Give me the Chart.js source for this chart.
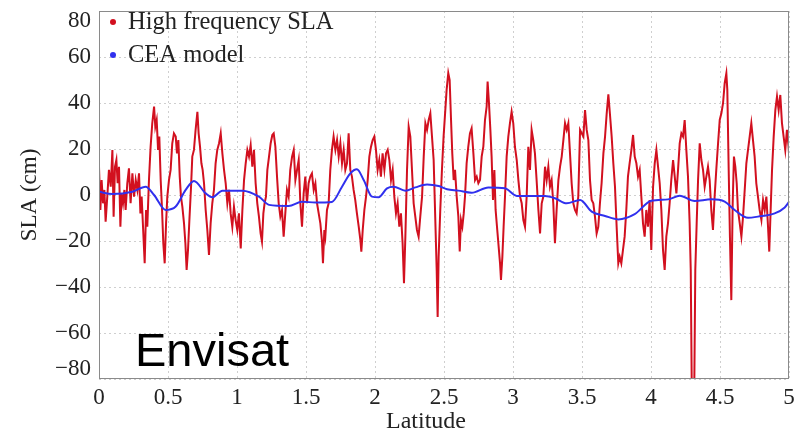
<!DOCTYPE html>
<html>
<head>
<meta charset="utf-8">
<script src="https://cdn.jsdelivr.net/npm/chart.js@4.4.1/dist/chart.umd.min.js"></script>
<style>
  html, body { margin: 0; padding: 0; background: #fff; }
  canvas { display: block; }
</style>
</head>
<body>
<canvas id="slaChart" width="795" height="435"></canvas>
<script>
// high frequency SLA (latitude, cm)
const hfLatitude = [
  0.000, 0.010, 0.019, 0.029, 0.039, 0.048, 0.060, 0.072, 0.085, 0.097, 0.106, 0.116, 0.126, 0.135, 0.145, 0.155,
  0.164, 0.174, 0.184, 0.193, 0.205, 0.217, 0.229, 0.242, 0.254, 0.266, 0.278, 0.290, 0.300, 0.309, 0.319, 0.331,
  0.341, 0.350, 0.362, 0.374, 0.386, 0.399, 0.408, 0.418, 0.428, 0.437, 0.447, 0.457, 0.466, 0.476, 0.486, 0.495,
  0.507, 0.519, 0.531, 0.543, 0.556, 0.565, 0.575, 0.585, 0.594, 0.604, 0.616, 0.626, 0.635, 0.645, 0.655, 0.667,
  0.676, 0.688, 0.700, 0.713, 0.722, 0.732, 0.742, 0.751, 0.761, 0.773, 0.785, 0.797, 0.809, 0.821, 0.833, 0.845,
  0.857, 0.870, 0.882, 0.894, 0.906, 0.918, 0.930, 0.942, 0.954, 0.966, 0.978, 0.990, 1.002, 1.014, 1.027, 1.039,
  1.051, 1.063, 1.075, 1.087, 1.099, 1.111, 1.123, 1.135, 1.147, 1.159, 1.171, 1.181, 1.191, 1.200, 1.210, 1.220,
  1.232, 1.244, 1.256,
  1.266, 1.278, 1.290, 1.302, 1.314, 1.326, 1.338, 1.350, 1.362, 1.374, 1.386, 1.399, 1.411, 1.423, 1.435, 1.447,
  1.459, 1.471, 1.483, 1.495, 1.507, 1.519, 1.531, 1.543, 1.556, 1.568, 1.580, 1.592, 1.604, 1.616, 1.623, 1.633,
  1.640, 1.652, 1.664, 1.676, 1.688, 1.700, 1.713, 1.725, 1.737, 1.749, 1.761, 1.773, 1.785, 1.797, 1.809, 1.821,
  1.833, 1.845, 1.857, 1.869, 1.882, 1.894, 1.901, 1.911, 1.923, 1.935, 1.947, 1.959, 1.971, 1.983, 1.995, 2.007,
  2.019, 2.031, 2.043, 2.055, 2.068, 2.080, 2.092, 2.104, 2.116, 2.128, 2.140, 2.152, 2.164, 2.176, 2.188, 2.200,
  2.210, 2.220, 2.232, 2.244, 2.256, 2.268, 2.280, 2.292, 2.304, 2.316, 2.328, 2.341, 2.353, 2.365, 2.377, 2.389,
  2.401, 2.413, 2.425, 2.437, 2.447, 2.454, 2.461, 2.473, 2.485, 2.497,
  2.519, 2.531, 2.541, 2.551, 2.560, 2.570, 2.580, 2.592, 2.604, 2.614, 2.623, 2.633, 2.643, 2.652, 2.664, 2.676,
  2.688, 2.700, 2.713, 2.725, 2.737, 2.749, 2.761, 2.773, 2.785, 2.797, 2.809, 2.816, 2.826, 2.836, 2.845, 2.855,
  2.865, 2.874, 2.884, 2.894, 2.906, 2.913, 2.923, 2.932, 2.942, 2.954, 2.966, 2.978, 2.990, 3.002, 3.014, 3.027,
  3.039, 3.051, 3.063, 3.075, 3.087, 3.099, 3.111, 3.123, 3.135, 3.147, 3.159, 3.171, 3.184, 3.196, 3.208, 3.220,
  3.232, 3.244, 3.256, 3.268, 3.280, 3.292, 3.304, 3.316, 3.329, 3.341, 3.353, 3.365, 3.377, 3.389, 3.401, 3.413,
  3.425, 3.437, 3.449, 3.461, 3.473, 3.486, 3.498, 3.510, 3.522, 3.534, 3.546, 3.558, 3.570, 3.582, 3.594, 3.606,
  3.618, 3.630, 3.642, 3.655, 3.667, 3.679, 3.691, 3.703, 3.715, 3.727, 3.739, 3.751, 3.763,
  3.773, 3.785, 3.797, 3.809, 3.821, 3.833, 3.845, 3.858, 3.870, 3.882, 3.894, 3.906, 3.918, 3.930, 3.942, 3.954,
  3.966, 3.978, 3.990, 4.002, 4.015, 4.027, 4.039, 4.051, 4.063, 4.075, 4.087, 4.099, 4.111, 4.123, 4.135, 4.147,
  4.160, 4.172, 4.184, 4.196, 4.208, 4.220, 4.232, 4.244, 4.256, 4.268, 4.280, 4.288, 4.297, 4.312, 4.321, 4.331,
  4.341, 4.353, 4.365, 4.377, 4.389, 4.401, 4.413, 4.425, 4.437, 4.449, 4.461, 4.473, 4.486, 4.498, 4.510, 4.522,
  4.534, 4.546, 4.553, 4.563, 4.572, 4.582, 4.592, 4.601, 4.611, 4.621, 4.630, 4.643, 4.655, 4.667, 4.679, 4.691,
  4.703, 4.715, 4.727, 4.739, 4.751, 4.763, 4.775, 4.787, 4.800, 4.812, 4.824, 4.836, 4.848, 4.857, 4.867, 4.877,
  4.889, 4.901, 4.913, 4.925, 4.937, 4.949, 4.961, 4.973, 4.985, 4.997, 5.000
];
const hfSLA = [
  12.3, -6.5, 6.5, -3.6, 2.2, -11.6, -0.7, 10.9, 3.6, 19.6, -9.4, 12.3, 15.2, 5.1, 12.3, -13.8,
  0.7, -3.6, 2.2, -6.5, 5.1, 11.6, -3.6, 9.4, -0.7, 6.5, 2.2, 9.4, -8.0, -0.7, -13.8, -29.7,
  -6.5, -13.8, 6.5, 21.0, 31.2, 38.4, 29.7, 32.6, 19.6, 25.4, 6.5, -6.5, -21.0, -29.7, -12.3, -0.7,
  6.5, 10.9, 22.5, 26.8, 25.4, 18.1, 23.9, 8.0, -0.7, -5.1, -12.3, -21.0, -32.6, -23.9, -10.9, 3.6,
  16.7, 19.6, 28.3, 36.2, 26.8, 21.0, 13.8, 10.9, 5.1, -6.5, -15.2, -26.1, -12.3, -3.6, 2.2, 13.8,
  19.6, 22.5, 26.8, 18.1, 10.9, 5.1, -3.6, 2.2, -8.0, -13.8, -5.1, -10.9, -15.2, -8.0, -23.2, -6.5,
  6.5, 13.8, 19.6, 16.7, 21.7, 12.3, 19.6, 5.1, -3.6, -9.4, -16.7, -20.3, -8.0, -3.6, -0.7, 10.9,
  16.7, 22.5, 26.1,
  26.8, 21.0, 8.0, -3.6, -9.4, -6.5, -18.1, -8.0, 2.2, -0.7, 10.9, 16.7, 19.6, 6.5, 10.9, 15.2,
  -3.6, -13.8, 0.7, 8.0, -3.6, 5.1, 8.0, 9.4, 2.2, 5.1, -3.6, -8.0, -12.3, -20.3, -29.7, -15.2,
  -18.1, -6.5, -3.6, 10.9, 19.6, 25.4, 19.6, 23.9, 16.7, 22.5, 13.8, 19.6, 10.9, 13.8, 26.8, 10.9,
  8.0, 2.2, -2.2, -8.0, -13.8, -19.6, -24.6, -15.2, -6.5, -0.7, 6.5, 16.7, 21.0, 23.9, 25.4, 19.6,
  10.9, 15.2, 8.0, 18.1, 10.9, 18.1, 19.6, 15.2, 6.5, 10.9, -0.7, -8.0, -3.6, -13.8, -8.0, -21.0,
  -38.4, -18.1, 10.9, 29.7, 25.4, 10.9, -3.6, -9.4, -15.2, -18.1, -9.4, -0.7, 16.7, 31.2, 28.3, 32.6,
  35.5, 25.4, 15.2, -10.9, -32.6, -53.0, -26.8, -6.5, 10.9, 25.4,
  45.7, 53.0, 50.0, 32.6, 18.1, 6.5, 10.9, -0.7, -9.4, -24.6, -10.9, -13.8, -8.0, -0.7, 13.8, 21.0,
  26.8, 29.0, 18.1, 6.5, 8.0, 5.1, 6.5, 16.7, 21.0, 32.6, 38.4, 49.3, 39.9, 28.3, 16.7, -2.2,
  10.9, -6.5, -13.8, -21.0, -29.7, -36.9, -26.8, -13.8, -0.7, 16.7, 25.4, 31.2, 36.2, 31.2, 21.0, 15.2,
  6.5, -0.7, -3.6, -10.9, -13.8, -0.7, 21.0, 10.9, 28.3, 23.9, 18.1, 6.5, -6.5, -16.7, -3.6, -0.7,
  12.3, 6.5, 12.3, 3.6, 6.5, -3.6, -21.0, -6.5, 6.5, 12.3, 16.7, 23.9, 31.2, 28.3, 31.2, 18.1,
  5.1, -3.6, -6.5, -8.0, -0.7, 28.3, 26.8, 25.4, 36.9, 28.3, 23.9, 6.5, -2.2, -3.6, -9.4, -16.7,
  -13.8, -3.6, 5.1, 18.1, 25.4, 35.5, 43.8, 34.8, 25.4, 13.8, 3.6, -13.8, -29.7,
  -26.8, -29.7, -23.9, -18.1, -6.5, 8.0, 13.8, 19.6, 26.1, 16.7, 13.8, 8.0, 10.9, -0.7, -12.3, -18.1,
  -6.5, -13.8, -2.2, -23.9, 3.6, 13.8, 19.6, 12.3, 5.1, -6.5, -23.9, -32.6, -18.1, -12.3, -3.6, 6.5,
  15.2, 8.0, 0.7, 10.9, 22.5, 26.8, 25.4, 32.6, 19.6, 8.0, -12.3, -32.6, -95, -95, -32.6, -12.3,
  6.5, 22.5, 15.2, 10.9, 3.6, 8.0, 12.3, 6.5, -6.5, -15.2, -0.7, 10.9, 22.5, 32.6, 35.5, 39.9,
  48.6, 52.9, 45.7, 10.9, -18.1, -45.7, -3.6, 16.7, 12.3, 5.1, -6.5, -12.3, -18.1, -9.4, 2.2, 13.8,
  19.6, 25.4, 31.2, 23.9, 16.7, 5.1, -0.7, -6.5, -10.9, -2.2, -6.5, -0.7, -13.8, -24.6, -6.5, 10.9,
  25.4, 36.9, 42.8, 36.9, 43.5, 31.2, 25.4, 19.6, 28.3, 21.0, 18.1
];

// CEA model (smooth curve)
const ceaLatitude = [
  0, 0.097, 0.242, 0.338, 0.399, 0.483, 0.556, 0.628, 0.688, 0.773, 0.821, 0.894, 1.039, 1.159, 1.232,
  1.374, 1.471, 1.568, 1.688, 1.761, 1.821, 1.869, 1.918, 1.978, 2.026, 2.087, 2.135, 2.220, 2.292, 2.377,
  2.461, 2.522, 2.604, 2.700, 2.821, 2.942, 3.027, 3.135, 3.232, 3.304, 3.389, 3.486, 3.570, 3.667, 3.763,
  3.882, 4.002, 4.123, 4.208, 4.316, 4.437, 4.534, 4.606, 4.703, 4.775, 4.896, 4.969, 5.000
];
const ceaSLA = [
  1.4, 0.4, 1.4, 3.6, 0.0, -6.5, -5.0, 2.2, 6.1, 0.7, -1.0, 1.9, 1.9, -0.7, -4.3,
  -4.8, -2.9, -3.3, -3.0, 3.6, 9.4, 11.2, 6.5, -0.7, -1.0, 2.9, 3.6, 1.9, 3.3, 4.6,
  3.9, 2.5, 1.9, 1.0, 3.3, 2.9, -0.4, -0.4, -0.4, -1.4, -3.6, -2.2, -7.2, -9.1, -10.6,
  -8.3, -2.5, -1.9, -0.3, -2.6, -1.9, -2.9, -6.5, -9.9, -9.4, -8.0, -5.4, -3.0
];

const yTicks = [-80, -60, -40, -20, 0, 20, 40, 60, 80];
const xTicks = [0, 0.5, 1, 1.5, 2, 2.5, 3, 3.5, 4, 4.5, 5];

const serif = '"Liberation Serif", "DejaVu Serif", serif';
const hfColor = '#d2101f';
const ceaColor = '#3030ee';

const toPoints = (xs, ys) => xs.map((x, i) => ({ x: x, y: ys[i] }));

// in the original the end labels of the y axis sit a little inside the box
const nudgeEndLabels = {
    id: 'nudgeEndLabels',
    beforeDraw(chart) {
        const y = chart.scales.y;
        y.getLabelItems(chart.chartArea).forEach(item => {
            if (item.label === '80') item.options.translation[1] += 10;
            if (item.label === '\u221280') item.options.translation[1] -= 10;
        });
    }
};

// legend, plot box, x title and the "Envisat" label
const decorations = {
    id: 'decorations',
    afterDraw(chart) {
        const ctx = chart.ctx;
        const area = chart.chartArea;
        ctx.save();
        ctx.strokeStyle = '#8a8a8a';
        ctx.lineWidth = 1;
        ctx.setLineDash([]);
        ctx.strokeRect(area.left + 0.5, area.top + 0.5, area.right - area.left - 1, area.bottom - area.top - 1);

        const items = [
            { label: 'High frequency SLA', color: hfColor, y: 22 },
            { label: 'CEA model', color: ceaColor, y: 55 }
        ];
        ctx.font = '24.5px ' + serif;
        ctx.textBaseline = 'middle';
        ctx.textAlign = 'left';
        items.forEach(it => {
            ctx.fillStyle = it.color;
            ctx.beginPath();
            ctx.arc(113, it.y, 3, 0, Math.PI * 2);
            ctx.fill();
            ctx.fillStyle = '#222';
            ctx.fillText(it.label, 128, it.y + 1);
        });

        ctx.font = '24px ' + serif;
        ctx.textAlign = 'center';
        ctx.fillText('Latitude', 426, 422);

        ctx.font = '47px "Liberation Sans", Arial, sans-serif';
        ctx.fillStyle = '#000';
        ctx.textAlign = 'left';
        ctx.textBaseline = 'alphabetic';
        ctx.fillText('Envisat', 135, 366);
        ctx.restore();
    }
};

new Chart(document.getElementById('slaChart').getContext('2d'), {
    type: 'line',
    data: {
        datasets: [
            {
                label: 'CEA model',
                data: toPoints(ceaLatitude, ceaSLA),
                borderColor: ceaColor,
                borderWidth: 2,
                pointRadius: 0,
                cubicInterpolationMode: 'monotone',
                fill: false
            },
            {
                label: 'High frequency SLA',
                data: toPoints(hfLatitude, hfSLA),
                borderColor: hfColor,
                borderWidth: 2,
                pointRadius: 0,
                tension: 0,
                fill: false
            }
        ]
    },
    options: {
        responsive: false,
        animation: false,
        devicePixelRatio: 1,
        layout: { padding: 0 },
        plugins: {
            legend: { display: false },
            tooltip: { enabled: false }
        },
        scales: {
            x: {
                type: 'linear',
                min: 0,
                max: 5,
                afterBuildTicks: scale => { scale.ticks = xTicks.map(v => ({ value: v })); },
                afterFit: scale => {
                    scale.height = 56;
                    scale.paddingLeft = 0;
                    scale.paddingRight = 6;
                },
                grid: { color: '#cfcfcf', drawTicks: false },
                border: { display: false, dash: [2, 3] },
                ticks: {
                    padding: 5,
                    color: '#222',
                    font: { family: serif, size: 23 },
                    maxRotation: 0,
                    callback: v => String(v)
                }
            },
            y: {
                type: 'linear',
                min: -80,
                max: 80,
                afterBuildTicks: scale => { scale.ticks = yTicks.map(v => ({ value: v })); },
                afterFit: scale => {
                    scale.width = 99;
                    scale.paddingTop = 11;
                    scale.paddingBottom = 0;
                },
                grid: { color: '#cfcfcf', drawTicks: false },
                border: { display: false, dash: [2, 3] },
                ticks: {
                    padding: 8,
                    color: '#222',
                    font: { family: serif, size: 23 },
                    callback: v => String(v).replace('-', '\u2212')
                },
                title: {
                    display: true,
                    text: 'SLA (cm)',
                    color: '#222',
                    font: { family: serif, size: 23 },
                    padding: { top: 16, bottom: 0 }
                }
            }
        }
    },
    plugins: [nudgeEndLabels, decorations]
});
</script>
</body>
</html>
